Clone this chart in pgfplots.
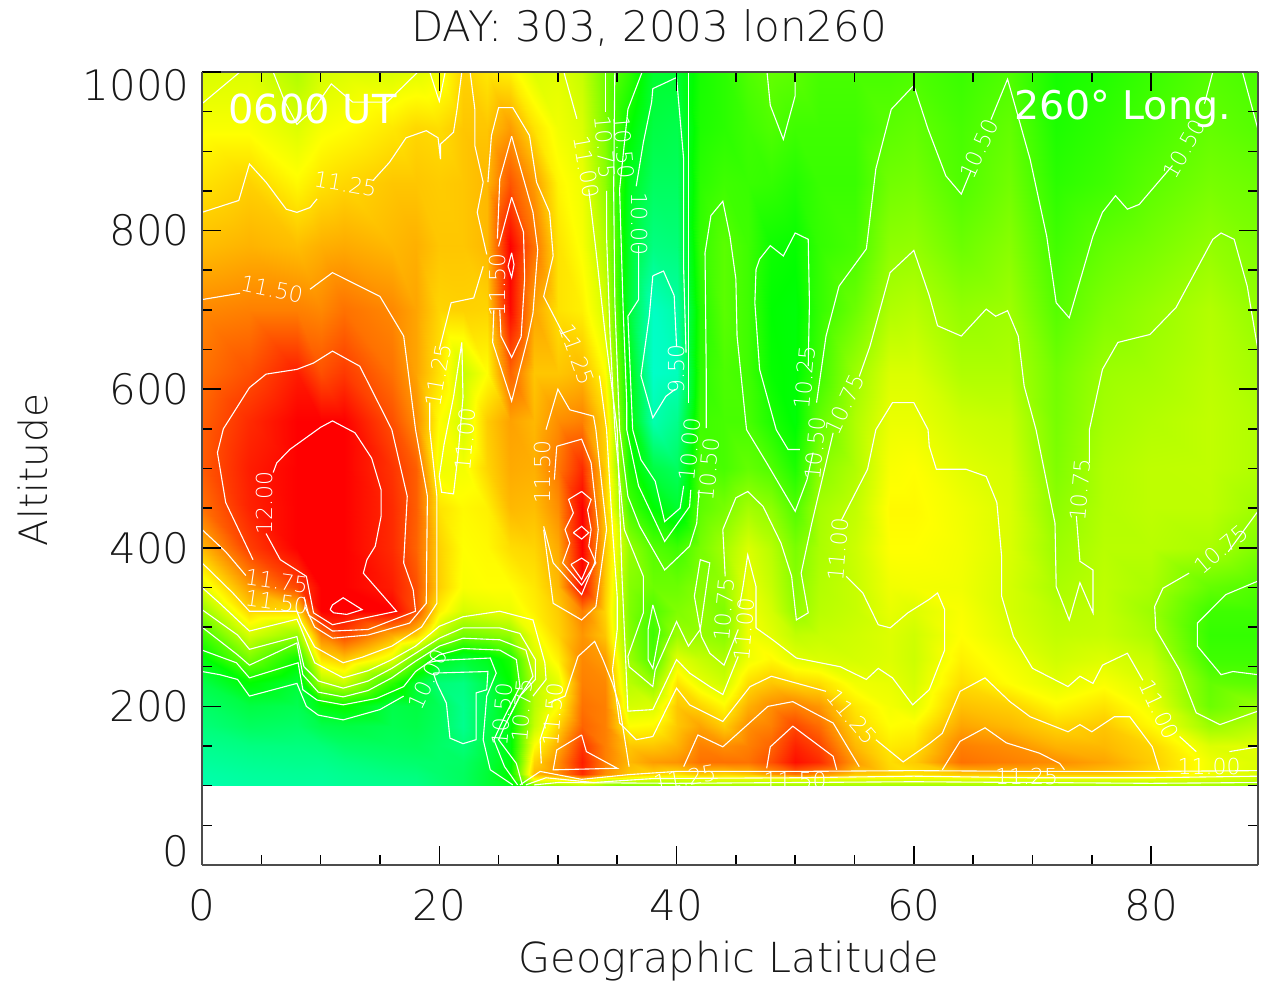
\documentclass[border=0pt]{standalone}
\usepackage{fontspec}
\setmainfont{DejaVu Sans}
\newfontfamily\lightf{DejaVu Sans ExtraLight}
\usepackage{pgfplots}
\pgfplotsset{compat=1.18}
\newcommand\lab[4]{\node[white,font=\lightf\fontsize{22}{22}\selectfont,rotate=#4,inner sep=0pt] at (axis cs:#1,#2) {#3};}
\begin{document}
\begin{tikzpicture}
\path[use as bounding box] (-202pt,-117pt) rectangle (1059pt,865pt);
\begin{axis}[scale only axis,width=1056pt,height=793pt,view={0}{90},
 xmin=0,xmax=89,ymin=0,ymax=1000,
 xtick={0,20,40,60,80},ytick={0,200,400,600,800,1000},ztick=\empty,
 yticklabels={\raisebox{14pt}[0.73em][0pt]{0},200,400,600,800,\raisebox{-13pt}[0.73em][0pt]{1000}},
 minor x tick num=3,minor y tick num=3,
 major tick length=19pt,minor tick length=10pt,
 tick style={black,line width=1.5pt},
 axis line style={black!70,line width=2pt},
 tick label style={font=\lightf\fontsize{42}{42}\selectfont,text=black!90,/pgf/number format/assume math mode=true},
 xticklabel style={yshift=-21pt},
 yticklabel style={xshift=-9pt},
 axis on top,
 colormap={idl}{rgb255(0)=(0,255,255); rgb255(95)=(0,255,0); rgb255(185)=(255,255,0); rgb255(275)=(255,0,0)},
 point meta min=9.25,point meta max=12,
 cont/.style={white,line width=1.1pt,sharp plot,no marks,line join=miter,forget plot}]
\addplot3[surf,shader=interp,mesh/ordering=y varies,mesh/rows=22,mesh/cols=34,point meta=z,forget plot] table {
0 100 9.55
0 108 9.57
0 115 9.58
0 130 9.62
0 150 9.67
0 175 9.75
0 200 9.82
0 230 9.93
0 260 10.15
0 290 10.42
0 320 10.72
0 350 11.0
0 400 11.35
0 450 11.6
0 500 11.68
0 560 11.66
0 620 11.6
0 700 11.52
0 780 11.33
0 860 11.2
0 930 11.08
0 1000 10.97
4 100 9.6
4 108 9.61
4 115 9.62
4 130 9.66
4 150 9.72
4 175 9.85
4 200 9.95
4 230 10.2
4 260 10.62
4 290 10.95
4 320 11.25
4 350 11.45
4 400 11.78
4 450 11.88
4 500 11.9
4 560 11.85
4 620 11.72
4 700 11.55
4 780 11.37
4 860 11.26
4 930 11.08
4 1000 10.98
8 100 9.62
8 108 9.63
8 115 9.64
8 130 9.68
8 150 9.73
8 175 9.82
8 200 9.9
8 230 10.0
8 260 10.25
8 290 10.72
8 320 11.22
8 350 11.75
8 400 12.02
8 450 12.1
8 500 12.12
8 560 12.08
8 620 11.9
8 700 11.55
8 780 11.33
8 860 11.12
8 930 10.98
8 1000 10.82
10 100 9.62
10 108 9.63
10 115 9.64
10 130 9.68
10 150 9.75
10 175 9.92
10 200 10.15
10 230 10.8
10 260 11.2
10 290 11.55
10 320 12.05
10 350 12.1
10 400 12.15
10 450 12.2
10 500 12.2
10 560 12.05
10 620 11.72
10 700 11.52
10 780 11.38
10 860 11.2
10 930 11.07
10 1000 10.95
12 100 9.65
12 108 9.66
12 115 9.67
12 130 9.72
12 150 9.82
12 175 9.95
12 200 10.22
12 230 10.9
12 260 11.3
12 290 11.75
12 320 12.27
12 350 12.2
12 400 12.2
12 450 12.2
12 500 12.15
12 560 12.02
12 620 11.8
12 700 11.6
12 780 11.4
12 860 11.24
12 930 11.1
12 1000 10.98
16 100 9.68
16 108 9.7
16 115 9.72
16 130 9.78
16 150 9.85
16 175 9.9
16 200 9.93
16 230 10.35
16 260 11.0
16 290 11.4
16 320 12.0
16 350 11.9
16 400 11.85
16 450 11.85
16 500 11.82
16 560 11.72
16 620 11.6
16 700 11.52
16 780 11.35
16 860 11.3
16 930 11.18
16 1000 10.97
18 100 9.7
18 108 9.72
18 115 9.74
18 130 9.8
18 150 9.87
18 175 9.93
18 200 9.96
18 230 10.02
18 260 10.55
18 290 11.27
18 320 11.72
18 350 11.72
18 400 11.65
18 450 11.67
18 500 11.67
18 560 11.5
18 620 11.42
18 700 11.42
18 780 11.38
18 860 11.3
18 930 11.24
18 1000 11.0
20 100 9.78
20 108 9.79
20 115 9.8
20 130 9.81
20 150 9.82
20 175 9.85
20 200 9.87
20 230 9.76
20 260 10.1
20 290 10.85
20 320 11.15
20 350 11.27
20 400 11.26
20 450 11.2
20 500 11.05
20 560 11.1
20 620 11.2
20 700 11.25
20 780 11.3
20 860 11.28
20 930 11.22
20 1000 11.05
22 100 9.85
22 108 9.85
22 115 9.85
22 130 9.83
22 150 9.76
22 175 9.67
22 200 9.68
22 230 9.72
22 260 10.0
22 290 10.6
22 320 10.95
22 350 11.08
22 400 11.1
22 450 11.12
22 500 11.06
22 560 10.95
22 620 10.9
22 700 11.26
22 780 11.3
22 860 11.3
22 930 11.3
22 1000 11.26
24 100 10.0
24 108 10.0
24 115 10.0
24 130 9.98
24 150 9.95
24 175 9.93
24 200 9.9
24 230 9.93
24 260 10.1
24 290 10.65
24 320 11.0
24 350 11.1
24 400 11.12
24 450 11.15
24 500 11.25
24 560 11.28
24 620 11.1
24 700 11.25
24 780 11.35
24 860 11.35
24 930 11.3
24 1000 11.18
26 100 10.1
26 108 10.2
26 115 10.2
26 130 10.15
26 150 10.15
26 175 10.15
26 200 10.2
26 230 10.2
26 260 10.28
26 290 10.72
26 320 11.03
26 350 11.1
26 400 11.22
26 450 11.35
26 500 11.4
26 560 11.43
26 620 11.65
26 700 11.97
26 780 12.02
26 860 11.7
26 930 11.45
26 1000 11.15
28 100 10.6
28 108 11.1
28 115 11.35
28 130 11.25
28 150 11.1
28 175 10.9
28 200 10.85
28 230 10.85
28 260 10.95
28 290 11.05
28 320 11.15
28 350 11.18
28 400 11.25
28 450 11.33
28 500 11.38
28 560 11.35
28 620 11.3
28 700 11.42
28 780 11.6
28 860 11.45
28 930 11.2
28 1000 10.98
30 100 10.7
30 108 11.15
30 115 11.5
30 130 11.5
30 150 11.4
30 175 11.25
30 200 11.1
30 230 11.0
30 260 11.15
30 290 11.25
30 320 11.28
30 350 11.35
30 400 11.4
30 450 11.5
30 500 11.58
30 560 11.5
30 620 11.3
30 700 11.2
30 780 11.2
30 860 11.13
30 930 11.05
30 1000 11.0
32 100 10.8
32 108 11.3
32 115 11.85
32 130 11.9
32 150 11.82
32 175 11.65
32 200 11.6
32 230 11.55
32 260 11.52
32 290 11.47
32 320 11.55
32 350 11.98
32 400 12.1
32 450 12.05
32 500 11.85
32 560 11.55
32 620 11.35
32 700 11.15
32 780 11.08
32 860 11.04
32 930 10.97
32 1000 10.9
34 100 10.7
34 108 11.0
34 115 11.5
34 130 11.55
34 150 11.55
34 175 11.55
34 200 11.55
34 230 11.52
34 260 11.45
34 290 11.3
34 320 11.25
34 350 11.28
34 400 11.3
34 450 11.28
34 500 11.27
34 560 11.25
34 620 11.1
34 700 10.95
34 780 10.82
34 860 10.7
34 930 10.65
34 1000 10.6
36 100 10.6
36 108 11.0
36 115 11.3
36 130 11.35
36 150 11.3
36 175 11.1
36 200 10.95
36 230 10.85
36 260 10.75
36 290 10.68
36 320 10.65
36 350 10.67
36 400 10.73
36 450 10.45
36 500 10.3
36 560 10.22
36 620 10.15
36 700 10.0
36 780 10.05
36 860 10.1
36 930 10.22
36 1000 10.37
38 100 10.65
38 108 10.95
38 115 11.25
38 130 11.45
38 150 11.3
38 175 11.12
38 200 10.97
38 230 10.72
38 260 10.47
38 290 10.42
38 320 10.48
38 350 10.58
38 400 10.5
38 450 10.2
38 500 9.95
38 560 9.55
38 620 9.45
38 700 9.47
38 780 9.72
38 860 9.85
38 930 9.95
38 1000 10.03
40 100 10.7
40 108 10.95
40 115 11.2
40 130 11.48
40 150 11.37
40 175 11.3
40 200 11.3
40 230 11.2
40 260 11.0
40 290 10.75
40 320 10.65
40 350 10.58
40 400 10.42
40 450 10.03
40 500 9.85
40 560 9.68
40 620 9.5
40 700 9.58
40 780 9.75
40 860 9.85
40 930 9.92
40 1000 10.02
42 100 10.75
42 108 11.0
42 115 11.3
42 130 11.6
42 150 11.55
42 175 11.42
42 200 11.25
42 230 11.02
42 260 10.9
42 290 10.73
42 320 10.72
42 350 10.68
42 400 10.62
42 450 10.52
42 500 10.48
42 560 10.42
42 620 10.36
42 700 10.32
42 780 10.38
42 860 10.35
42 930 10.3
42 1000 10.28
44 100 10.75
44 108 11.0
44 115 11.25
44 130 11.6
44 150 11.5
44 175 11.28
44 200 11.12
44 230 10.93
44 260 10.82
44 290 10.68
44 320 10.65
44 350 10.72
44 400 10.78
44 450 10.62
44 500 10.45
44 560 10.45
44 620 10.47
44 700 10.52
44 780 10.52
44 860 10.42
44 930 10.35
44 1000 10.35
46 100 10.75
46 108 11.0
46 115 11.3
46 130 11.6
46 150 11.55
46 175 11.5
46 200 11.38
46 230 11.22
46 260 11.05
46 290 11.05
46 320 11.05
46 350 11.03
46 400 10.97
46 450 10.78
46 500 10.55
46 560 10.45
46 620 10.42
46 700 10.42
46 780 10.42
46 860 10.4
46 930 10.42
46 1000 10.48
48 100 10.75
48 108 11.0
48 115 11.45
48 130 11.72
48 150 11.65
48 175 11.55
48 200 11.5
48 230 11.3
48 260 11.12
48 290 11.0
48 320 10.95
48 350 10.9
48 400 10.85
48 450 10.7
48 500 10.48
48 560 10.3
48 620 10.22
48 700 10.2
48 780 10.25
48 860 10.38
48 930 10.48
48 1000 10.55
50 100 10.75
50 108 11.0
50 115 11.6
50 130 11.95
50 150 11.88
50 175 11.75
50 200 11.55
50 230 11.25
50 260 11.0
50 290 10.88
50 320 10.72
50 350 10.68
50 400 10.63
50 450 10.48
50 500 10.3
50 560 10.18
50 620 10.18
50 700 10.17
50 780 10.22
50 860 10.32
50 930 10.42
50 1000 10.52
52 100 10.75
52 108 11.0
52 115 11.5
52 130 11.85
52 150 11.76
52 175 11.62
52 200 11.47
52 230 11.22
52 260 10.97
52 290 10.9
52 320 10.85
52 350 10.83
52 400 10.8
52 450 10.78
52 500 10.68
52 560 10.55
52 620 10.42
52 700 10.38
52 780 10.38
52 860 10.4
52 930 10.42
52 1000 10.45
55 100 10.75
55 108 11.0
55 115 11.3
55 130 11.45
55 150 11.35
55 175 11.25
55 200 11.18
55 230 11.05
55 260 10.95
55 290 10.93
55 320 10.9
55 350 10.9
55 400 10.92
55 450 10.88
55 500 10.82
55 560 10.82
55 620 10.75
55 700 10.58
55 780 10.45
55 860 10.4
55 930 10.42
55 1000 10.45
58 100 10.75
58 108 11.0
58 115 11.25
58 130 11.22
58 150 11.17
58 175 11.1
58 200 11.06
58 230 11.02
58 260 10.98
58 290 10.98
58 320 11.02
58 350 11.05
58 400 11.1
58 450 11.12
58 500 11.08
58 560 11.03
58 620 10.97
58 700 10.82
58 780 10.7
58 860 10.6
58 930 10.52
58 1000 10.45
60 100 10.75
60 108 11.0
60 115 11.2
60 130 11.28
60 150 11.2
60 175 11.12
60 200 11.0
60 230 10.95
60 260 10.92
60 290 10.93
60 320 10.98
60 350 11.06
60 400 11.1
60 450 11.12
60 500 11.1
60 560 11.03
60 620 10.97
60 700 10.85
60 780 10.72
60 860 10.62
60 930 10.55
60 1000 10.47
64 100 10.75
64 108 11.0
64 115 11.3
64 130 11.6
64 150 11.55
64 175 11.42
64 200 11.32
64 230 11.22
64 260 11.15
64 290 11.1
64 320 11.08
64 350 11.05
64 400 11.06
64 450 11.05
64 500 11.0
64 560 10.93
64 620 10.82
64 700 10.72
64 780 10.58
64 860 10.48
64 930 10.45
64 1000 10.4
68 100 10.75
68 108 11.0
68 115 11.3
68 130 11.55
68 150 11.5
68 175 11.35
68 200 11.27
68 230 11.1
68 260 11.05
68 290 10.98
68 320 10.95
68 350 10.95
68 400 10.97
68 450 10.97
68 500 10.95
68 560 10.9
68 620 10.82
68 700 10.76
68 780 10.68
68 860 10.6
68 930 10.55
68 1000 10.48
72 100 10.75
72 108 11.0
72 115 11.3
72 130 11.5
72 150 11.37
72 175 11.25
72 200 11.12
72 230 11.0
72 260 10.93
72 290 10.88
72 320 10.85
72 350 10.8
72 400 10.75
72 450 10.7
72 500 10.65
72 560 10.62
72 620 10.6
72 700 10.5
72 780 10.43
72 860 10.35
72 930 10.3
72 1000 10.27
76 100 10.75
76 108 11.0
76 115 11.3
76 130 11.42
76 150 11.35
76 175 11.3
76 200 11.2
76 230 11.08
76 260 10.98
76 290 10.9
76 320 10.88
76 350 10.87
76 400 10.85
76 450 10.83
76 500 10.82
76 560 10.78
76 620 10.75
76 700 10.65
76 780 10.55
76 860 10.42
76 930 10.37
76 1000 10.32
80 100 10.75
80 108 11.0
80 115 11.22
80 130 11.28
80 150 11.25
80 175 11.12
80 200 11.05
80 230 10.97
80 260 10.9
80 290 10.8
80 320 10.75
80 350 10.8
80 400 10.85
80 450 10.87
80 500 10.87
80 560 10.83
80 620 10.78
80 700 10.73
80 780 10.62
80 860 10.52
80 930 10.45
80 1000 10.4
85 100 10.75
85 108 10.95
85 115 11.05
85 130 11.05
85 150 10.98
85 175 10.75
85 200 10.58
85 230 10.55
85 260 10.42
85 290 10.38
85 320 10.42
85 350 10.55
85 400 10.8
85 450 10.87
85 500 10.88
85 560 10.88
85 620 10.86
85 700 10.83
85 780 10.72
85 860 10.62
85 930 10.55
85 1000 10.5
89 100 10.7
89 108 10.9
89 115 10.97
89 130 10.98
89 150 11.0
89 175 10.85
89 200 10.73
89 230 10.52
89 260 10.42
89 290 10.38
89 320 10.42
89 350 10.48
89 400 10.65
89 450 10.76
89 500 10.82
89 560 10.82
89 620 10.78
89 700 10.72
89 780 10.65
89 860 10.58
89 930 10.5
89 1000 10.45
};
% contours
\addplot[cont] coordinates {(0,960)(3.2,1000)};
\addplot[cont] coordinates {(6,1000)(7,962)(8,934)(9.4,953)(10.9,985)(12.7,962)(15.6,962)(18.2,1000)};
\addplot[cont] coordinates {(19.2,1000)(20,963)(20.5,1000)};
\addplot[cont] coordinates {(0,823)(3.1,838)(4,884)(5.4,861)(7.1,827)(8,823)(9.1,829)(9.7,840)};
\addplot[cont] coordinates {(14.4,863)(15.8,886)(17.2,917)(18.9,926)(19.9,917)(20.1,890)(20.1,909)(21.2,924)(21.5,953)(21.9,1000)};
\addplot[cont] coordinates {(22.6,1000)(23,953)(23,907)(23.7,861)(23.2,823)(24,770)};
\addplot[cont] coordinates {(24.1,861)(24.4,920)(25,955)(26.2,955)(27.6,920)(28.2,861)(29.3,823)(29.6,768)(28.8,717)(30.4,671)(31,660)};
\addplot[cont] coordinates {(33.5,617)(34.1,549)(34.6,423)(35,338)(35,297)(34.6,246)(35.2,179)(36.6,158)(38,162)(40,223)(41.1,202)(43.9,181)(46.2,225)(48,238)(52.6,219)};
\addplot[cont] coordinates {(56.8,158)(59.1,130)(61.3,153)(62.4,166)(63.9,219)(66,236)(68.1,206)(69.8,187)(73,168)(74,177)(75,168)(76.9,187)(78.2,187)(80.1,149)(80.7,120)};
\addplot[cont] coordinates {(0,381)(2.6,343)(4,320)(8,320)(8.4,305)(9.5,275)(11.9,255)(13.5,262)(16,276)(18.5,300)(19.8,330)(19.8,465)(19.2,549)(19.2,583)};
\addplot[cont] coordinates {(20,650)(21,709)(22.9,715)(23.7,755)};
\addplot[cont] coordinates {(0,713)(3.2,721)};
\addplot[cont] coordinates {(9.1,726)(11,747)(15,717)(17,667)(18,549)(19,465)(18.9,330)(17.5,305)(14,290)(11,286)(9.5,300)(8.7,325)};
\addplot[cont] coordinates {(0,423)(2,395)(3.7,365)};
\addplot[cont] coordinates {(4.3,385)(2,457)(1.3,520)(1.8,550)(4,602)(5.4,619)(8,625)(9.4,633)(11,648)(13.3,629)(16,549)(17.3,465)(17,381)(17.8,347)(18,320)(14,297)(11,295)(9,315)(8.6,338)};
\addplot[cont] coordinates {(5.4,418)(6.6,385)(8.8,364)(9.4,318)(11,303)(16.4,320)(13.6,368)(13.9,385)(14.6,402)(15.1,440)(15.1,473)(14.3,513)(12.9,545)(11,560)(10,552)(7.4,524)(6.3,507)(6,495)};
\addplot[cont] coordinates {(10.8,322)(11,328)(11.9,337)(13.5,322)(12.2,316)(11.1,318)(10.8,322)};
\addplot[cont] coordinates {(0,350)(1.5,330)(4,295)(8,310)(8.3,300)(9.5,255)(11.9,236)(14,245)(16,259)(18,276)(20,301)(22,313)(25.1,320)(27.9,309)(28.9,255)(29,234)(27.9,213)};
\addplot[cont] coordinates {(0,322)(3,290)(4,272)(8,288)(8.6,250)(9.8,232)(11.9,223)(14,232)(16,248)(18,267)(20,286)(22,299)(25.1,299)(26.8,292)(28.1,259)(28.1,234)(26.8,213)(26,190)};
\addplot[cont] coordinates {(0,300)(3,265)(4,252)(8,280)(8.5,240)(9.8,218)(11.9,212)(14,220)(16,236)(18,257)(20,276)(22,286)(25.1,284)(27.3,271)(27.9,238)(26.8,213)(25.5,175)(25,158)(26.5,128)(27,101)};
\addplot[cont] coordinates {(0,271)(2.9,255)(4,236)(8.1,255)(8.5,221)(9.7,208)(11.9,202)(14.7,210)(17,225)(18,244)(20,265)(22,273)(25.1,271)(26.5,259)(26.8,225)(25.5,187)(24.6,158)(25.5,124)(26.6,101)};
\addplot[cont] coordinates {(0,244)(1.5,240)(3,234)(4,213)(8,229)(8.8,200)(9.8,189)(11.9,183)(15,196)(17,213)};
\addplot[cont] coordinates {(19,255)(20,258)(24.3,261)(24.8,242)(24,213)(23.7,158)(24.3,120)(26.2,101)};
\addplot[cont] coordinates {(19.5,242)(24.1,244)(24,221)(23.1,217)(23.1,158)(22,153)(20.9,160)(20.6,204)(19.8,229)(19.5,242)};
\addplot[cont] coordinates {(21.9,659)(21.2,590)(20.4,530)(20,490)(20.2,470)(21.2,468)(21.6,520)(22,590)(21.9,659)};
% ridge
\addplot[cont] coordinates {(26.1,919)(26.9,876)(27.9,823)(28.3,776)(27.9,696)(27.5,667)(26.1,585)(24.5,659)(24.6,700)};
\addplot[cont] coordinates {(24.9,790)(25.1,865)(26.1,919)};
\addplot[cont] coordinates {(26.1,842)(27.1,798)(27.2,740)(26.9,666)(26.1,640)(25.2,667)(25.1,700)};
\addplot[cont] coordinates {(25,780)(26.1,842)};
\addplot[cont] coordinates {(26.1,772)(26.3,757)(26.1,741)(25.8,755)(26.1,772)};
% blob at 32
\addplot[cont] coordinates {(29,549)(30,600)(31,574)(33,566)(33.2,549)(34.1,423)(33.2,326)(32,309)(29.6,330)(28.8,423)};
\addplot[cont] coordinates {(29.9,528)(32,537)(32.8,507)(33.4,423)(33.1,381)(32,341)(29.6,381)(28.8,427)};
\addplot[cont] coordinates {(29.7,486)(29.9,528)};
\addplot[cont] coordinates {(32,471)(30.9,461)(31.3,444)(30.6,423)(31,406)(30.4,381)(32,353)(33.2,381)(32.6,402)(32.8,423)(32.5,448)(32.8,461)(32,471)};
\addplot[cont] coordinates {(31.3,419)(32,427)(32.6,419)(32,411)(31.3,419)};
\addplot[cont] coordinates {(31.1,379)(32,387)(32.6,381)(32,360)(31.1,379)};
\addplot[cont] coordinates {(29.2,204)(30.6,213)(31.7,263)(33.1,282)(33.8,259)(34.6,229)(35.2,200)(36,124)};
\addplot[cont] coordinates {(28.6,128)(28.5,158)(29.2,190)};
\addplot[cont] coordinates {(32,164)(32.4,143)(35,122)(29.6,120)(29.9,145)(32,164)};
% right of ridge
\addplot[cont] coordinates {(30.5,1000)(31.6,941)};
\addplot[cont] coordinates {(32.6,852)(33.2,776)(34,667)(35,549)(35.4,364)(35.9,194)(38,196)(40,259)(41.1,242)(42.8,225)(43.9,215)(45.2,263)};
\addplot[cont] coordinates {(45.3,326)(45.6,351)(46,391)(46.7,351)(46.7,299)(48.1,284)(50.1,261)(53.8,250)(56,234)(57,248)(58.2,236)(59.9,202)(61.3,221)(62.6,271)(62.6,322)(62,343)(61.3,335)(59.5,318)(58,299)(57,303)(55.7,343)(54.3,364)};
\addplot[cont] coordinates {(53.9,435)(56.1,499)(56.8,549)(58.2,583)(60,583)(61.2,549)(61.3,528)(61.9,499)(64.4,499)(66.1,490)(67,457)(67.4,389)(67.4,339)(68.4,288)(70,248)(73,225)(74,238)(75.1,229)(75.9,252)(78,267)(79.3,233)};
\addplot[cont] coordinates {(82.4,162)(83.8,143)};
\addplot[cont] coordinates {(86.6,143)(89,149)};
\addplot[cont] coordinates {(40.6,124)(41.8,164)(43.9,149)(47.7,200)(49.8,206)(53.2,179)(55.4,124)};
\addplot[cont] coordinates {(47.6,122)(47.9,149)(49.8,175)(53.2,137)(53.5,120)};
\addplot[cont] coordinates {(62.4,120)(63.9,156)(66,173)(67.8,154)(70.6,141)(72.3,128)(72.7,120)};
% 10.75
\addplot[cont] coordinates {(34,1004)(34,950)};
\addplot[cont] coordinates {(34.1,850)(34.1,793)(34.4,667)(34.8,549)(35.6,423)(37.2,364)(37.2,318)(35.9,263)(36,250)(38,225)(38.2,246)(40,307)(41,276)(42,297)(42.8,381)(42,385)(41.5,339)(42.1,288)(42.8,267)(44,252)(45.2,297)};
\addplot[cont] coordinates {(44.1,364)(43.9,423)(45,463)(46,471)(47.3,452)(48.8,406)(49.7,364)(50.1,309)(51.1,318)(50.5,368)(51.4,431)(53.2,545)};
\addplot[cont] coordinates {(55.4,616)(56.3,654)(58,747)(60,775)(61.3,718)(62,680)(64,667)(66.1,701)(66.9,692)(67.9,699)(68.8,667)(69.3,604)(70.3,549)(71.9,431)(72,351)(73.1,309)(74,356)(75.1,318)(75.1,372)(74,383)(73.7,440)};
\addplot[cont] coordinates {(74.8,507)(74.8,549)(75.9,625)(77.2,659)(79.9,669)(82.1,703)(85.2,789)(85.9,797)(87,789)(88.1,730)(89,650)};
\addplot[cont] coordinates {(89,446)(86.5,395)};
\addplot[cont] coordinates {(83.2,368)(81,349)(80.3,326)(80.4,297)(82.4,246)(83.8,192)(85.8,177)(89,194)};
% 10.5
\addplot[cont] coordinates {(34.8,1004)(34.7,852)(34.8,709)(35.2,549)(35.9,465)(36.9,427)(39,372)(41.1,402)(41.7,431)(41.9,473)};
\addplot[cont] coordinates {(42.5,551)(42.5,625)(42.4,772)(42.9,819)(43.9,837)(44.5,793)(45,739)(45.1,667)(45.9,549)(47.6,507)(50,446)(51,486)(51.5,520)};
\addplot[cont] coordinates {(51.8,583)(52.6,667)(53.7,730)(56,777)(56.8,878)(58.1,953)(60,983)(61.2,928)(62.7,869)(64,846)(64.8,875)};
\addplot[cont] coordinates {(66.5,940)(67.9,991)(69.8,890)(71.2,793)(72,709)(73.1,690)(75.1,793)(75.9,823)(77,844)(78,827)(79,833)(81.8,882)};
\addplot[cont] coordinates {(84.5,960)(85.2,1000)};
\addplot[cont] coordinates {(87.7,1000)(89,928)};
\addplot[cont] coordinates {(47.6,1004)(47.9,958)(49,915)(50,970)(50,1004)};
\addplot[cont] coordinates {(38,328)(38.6,297)(38,248)(37.6,259)(37.6,297)(38,328)};
\addplot[cont] coordinates {(89,358)(86.3,341)(83.9,305)(83.9,276)(85.9,240)(86.9,244)(89,240)};
% 10.25, 10.0, 9.5
\addplot[cont] coordinates {(37.2,1004)(35.9,953)(35.2,852)(35.5,700)(35.8,583)(35.8,549)(36.8,478)(39,408)(41.1,452)(41.2,473)};
\addplot[cont] coordinates {(41,583)(41,751)(41,878)(41,1004)};
\addplot[cont] coordinates {(36.3,549)(37,511)(38.2,484)(39,433)(40.3,450)(40.6,478)};
\addplot[cont] coordinates {(40.8,646)(40.6,751)(40.6,890)(40.3,941)(40,993)(38,979)(37.9,962)(37.2,911)(36.6,856)};
\addplot[cont] coordinates {(36.8,781)(36.8,713)(35.9,692)(36.3,549)};
\addplot[cont] coordinates {(38,743)(38.9,749)(39.8,718)(40,654)};
\addplot[cont] coordinates {(39.9,600)(39.1,591)(38,564)(37,617)(37.7,692)(38,743)};
\addplot[cont] coordinates {(47,764)(47.9,781)(49,768)(50,797)(51.1,789)(51.2,709)(51.1,629)};
\addplot[cont] coordinates {(50.4,524)(49.4,524)(48.4,549)(47,625)(46.6,709)(46.7,751)(47,764)};
% rim
\addplot[cont] coordinates {(26.8,101)(28.5,118)(32,108)(36,114)(40,118)(50,118)(60,119)(70,118)(80,118)(89,119)};
\addplot[cont] coordinates {(27.3,101)(29,110)(33,104)(38,109)(50,110)(60,112)(70,110)(80,110)(89,112)};
\addplot[cont] coordinates {(28,101)(30,104)(40,103)(50,104)(60,105)(70,104)(80,103)(89,104)};
% labels
\lab{12.1}{859}{11.25}{-10}
\lab{5.9}{726}{11.50}{-12}
\lab{19.9}{618}{11.25}{80}
\lab{22.2}{537}{11.00}{85}
\lab{24.9}{732}{11.50}{90}
\lab{31.6}{644}{11.25}{-70}
\lab{32.4}{880}{11.00}{-80}
\lab{34}{905}{10.75}{-85}
\lab{35.6}{905}{10.50}{-85}
\lab{36.9}{808}{10.00}{-90}
\lab{40}{625}{9.50}{90}
\lab{41.1}{524}{10.00}{85}
\lab{42.7}{499}{10.50}{85}
\lab{50.8}{615}{10.25}{85}
\lab{51.7}{525}{10.50}{85}
\lab{54.2}{581}{10.75}{65}
\lab{53.6}{398}{11.00}{85}
\lab{65.5}{903}{10.50}{65}
\lab{82.8}{903}{10.50}{60}
\lab{74}{473}{10.75}{85}
\lab{85.9}{398}{10.75}{40}
\lab{80.7}{196}{11.00}{-65}
\lab{84.9}{124}{11.00}{0}
\lab{69.5}{111}{11.25}{0}
\lab{54.8}{187}{11.25}{-50}
\lab{50}{107}{11.50}{0}
\lab{40.7}{110}{11.25}{10}
\lab{19}{234}{10.00}{65}
\lab{28.7}{495}{11.50}{90}
\lab{29.6}{190}{11.50}{85}
\lab{6.3}{358}{11.75}{-8}
\lab{6.3}{332}{11.50}{-8}
\lab{5.3}{457}{12.00}{90}
\lab{25.3}{190}{10.50}{85}
\lab{27}{195}{10.75}{85}
\lab{44}{322}{10.75}{85}
\lab{45.7}{297}{11.00}{85}
\node[white,anchor=west,inner sep=0pt,font=\fontsize{40}{40}\selectfont] at (axis cs:2.2,953) {0600 UT};
\node[white,anchor=west,inner sep=0pt,font=\fontsize{39.5}{40}\selectfont] at (axis cs:68.5,953) {260° Long.};
\end{axis}
\node[font=\lightf\fontsize{42}{42}\selectfont,text=black!90] at (447pt,837pt) {DAY: 303, 2003 lon260};
\node[font=\lightf\fontsize{41.4}{42}\selectfont,text=black!90] at (527pt,-96pt) {Geographic Latitude};
\node[font=\lightf\fontsize{39}{40}\selectfont,text=black!90,rotate=90] at (-169pt,395pt) {Altitude};
\end{tikzpicture}
\end{document}
